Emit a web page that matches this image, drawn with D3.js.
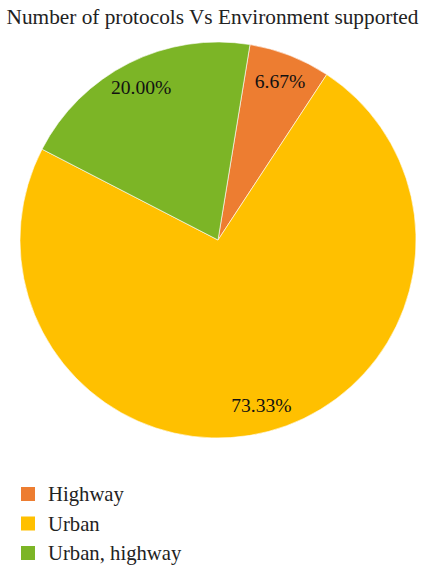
<!DOCTYPE html>
<html><head><meta charset="utf-8">
<script src="https://cdn.jsdelivr.net/npm/d3@7"></script>
<style>body{margin:0;background:#fff}svg{display:block}</style>
</head><body>
<svg id="chart" width="425" height="569"></svg>
<script>
const title = "Number of protocols Vs Environment supported";
const categories = ["Highway", "Urban", "Urban, highway"];
const values = [6.67, 73.33, 20.00];
const labels = ["6.67%", "73.33%", "20.00%"];
const colors = ["#ED7D31", "#FFC000", "#7CB526"];

const svg = d3.select("#chart");
const font = "'Liberation Serif', 'DejaVu Serif', serif";
const cx = 218, cy = 240, r = 198;
const startDeg = 9.3;

svg.append("text").attr("x", 212.5).attr("y", 24).attr("text-anchor", "middle")
  .attr("font-family", font).attr("font-size", 21.3).attr("fill", "#222").text(title);

const pie = d3.pie().sort(null).value(d => d)
  .startAngle(startDeg * Math.PI / 180).endAngle((startDeg + 360) * Math.PI / 180);
const arcs = pie(values);
const arc = d3.arc().innerRadius(0).outerRadius(r);
const labelArc = d3.arc().innerRadius(171).outerRadius(171);

const g = svg.append("g").attr("transform", `translate(${cx},${cy})`);
g.selectAll("path").data(arcs).join("path")
  .attr("d", arc).attr("fill", (d, i) => colors[i])
  .attr("stroke", "#fff").attr("stroke-width", 0.6);
g.selectAll("text").data(arcs).join("text")
  .attr("transform", d => `translate(${labelArc.centroid(d)})`)
  .attr("text-anchor", "middle").attr("dy", "0.35em")
  .attr("font-family", font).attr("font-size", 19.6).attr("fill", "#111")
  .text((d, i) => labels[i]);

const lg = svg.append("g");
const y = d3.scalePoint().domain(categories).range([494, 553]);
categories.forEach((c, i) => {
  lg.append("rect").attr("x", 21).attr("y", y(c) - 7).attr("width", 14).attr("height", 14).attr("fill", colors[i]);
  lg.append("text").attr("x", 48).attr("y", y(c)).attr("dy", "0.35em")
    .attr("font-family", font).attr("font-size", 20.7).attr("fill", "#222").text(c);
});
</script>
</body></html>
